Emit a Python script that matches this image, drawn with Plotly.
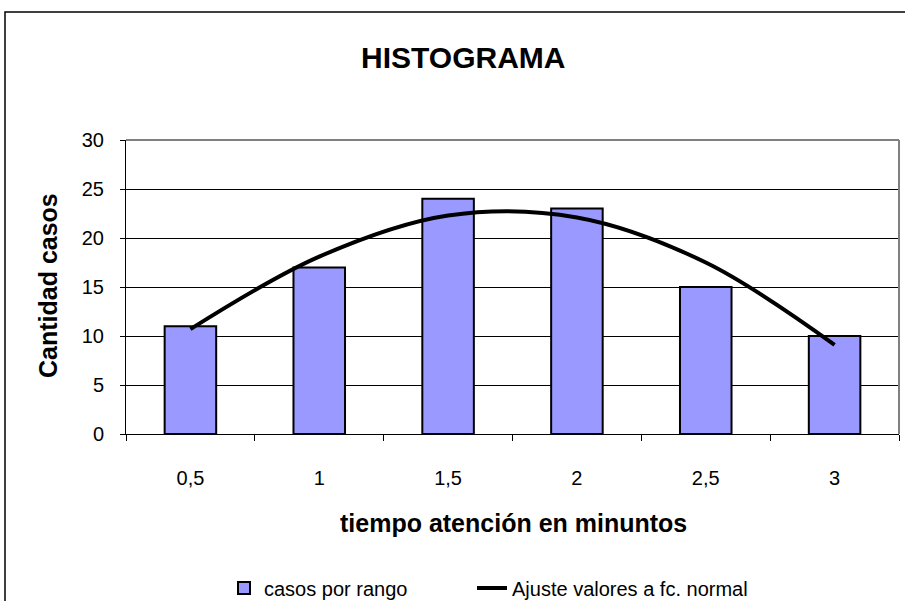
import plotly.graph_objects as go

categories = ["0,5", "1", "1,5", "2", "2,5", "3"]
casos = [11, 17, 24, 23, 15, 10]
ajuste = [10.7, 18.1, 22.3, 22.1, 17.5, 9.1]

W, H = 905, 601
L, R, T, B = 126, 6, 140, 167
pw = W - L - R
ph = H - T - B

def px_x(p):
    return (p - L) / pw

def px_y(p):
    return (H - B - p) / ph

FONT = "Arial, Liberation Sans, sans-serif"

fig = go.Figure()
fig.add_trace(go.Bar(
    x=categories, y=casos, name="casos por rango",
    marker=dict(color="#9999FF", line=dict(color="#000000", width=2)),
    legend="legend",
))
fig.add_trace(go.Scatter(
    x=categories, y=ajuste, name="Ajuste valores a fc. normal",
    mode="lines", line=dict(color="#000000", width=4, shape="spline"),
    legend="legend2",
))

legend_common = dict(orientation="h", xanchor="left", yanchor="middle",
                     font=dict(size=20), bgcolor="rgba(0,0,0,0)", borderwidth=0, itemwidth=30)

fig.update_layout(
    width=W, height=H,
    margin=dict(l=L, r=R, t=T, b=B, autoexpand=False),
    paper_bgcolor="white", plot_bgcolor="white",
    font=dict(family=FONT, size=20, color="#000"),
    bargap=0.6,
    showlegend=True,
    legend=dict(x=px_x(224), y=px_y(588), **legend_common),
    legend2=dict(x=px_x(472), y=px_y(588), **legend_common),
    xaxis=dict(type="category", showline=True, linecolor="#000", linewidth=1,
               ticks="outside", ticklen=6, tickcolor="#000", tickson="boundaries",
               showgrid=False, tickfont=dict(size=20), ticklabelstandoff=26),
    yaxis=dict(range=[0, 30], tickvals=[0, 5, 10, 15, 20, 25, 30], showline=True,
               linecolor="#000", linewidth=1, ticks="outside", ticklen=5, tickcolor="#000",
               showgrid=True, gridcolor="#000", gridwidth=1, zeroline=False,
               tickfont=dict(size=20), ticklabelstandoff=12),
)

# plot area border (top & right, gray)
fig.add_shape(type="line", xref="paper", yref="paper", x0=0, x1=1, y0=1, y1=1,
              line=dict(color="#808080", width=2))
fig.add_shape(type="line", xref="paper", yref="paper", x0=1, x1=1, y0=0, y1=1,
              line=dict(color="#808080", width=2))
# outer chart border
fig.add_shape(type="rect", xref="paper", yref="paper",
              x0=px_x(5), x1=px_x(930), y0=px_y(625), y1=px_y(12),
              line=dict(color="#000", width=1.5), fillcolor="rgba(0,0,0,0)", layer="below")

fig.add_annotation(text="<b>HISTOGRAMA</b>", xref="paper", yref="paper",
                   x=px_x(463), y=px_y(58), showarrow=False,
                   font=dict(size=30, family=FONT), xanchor="center", yanchor="middle")
fig.add_annotation(text="<b>Cantidad casos</b>", xref="paper", yref="paper",
                   x=px_x(48), y=px_y(286), showarrow=False, textangle=-90,
                   font=dict(size=25, family=FONT), xanchor="center", yanchor="middle")
fig.add_annotation(text="<b>tiempo atención en minuntos</b>", xref="paper", yref="paper",
                   x=px_x(513), y=px_y(523), showarrow=False,
                   font=dict(size=25, family=FONT), xanchor="center", yanchor="middle")

fig.write_html("out.html", config={"displayModeBar": False},
               post_script="document.body.style.margin='0';document.body.style.overflow='hidden';")
